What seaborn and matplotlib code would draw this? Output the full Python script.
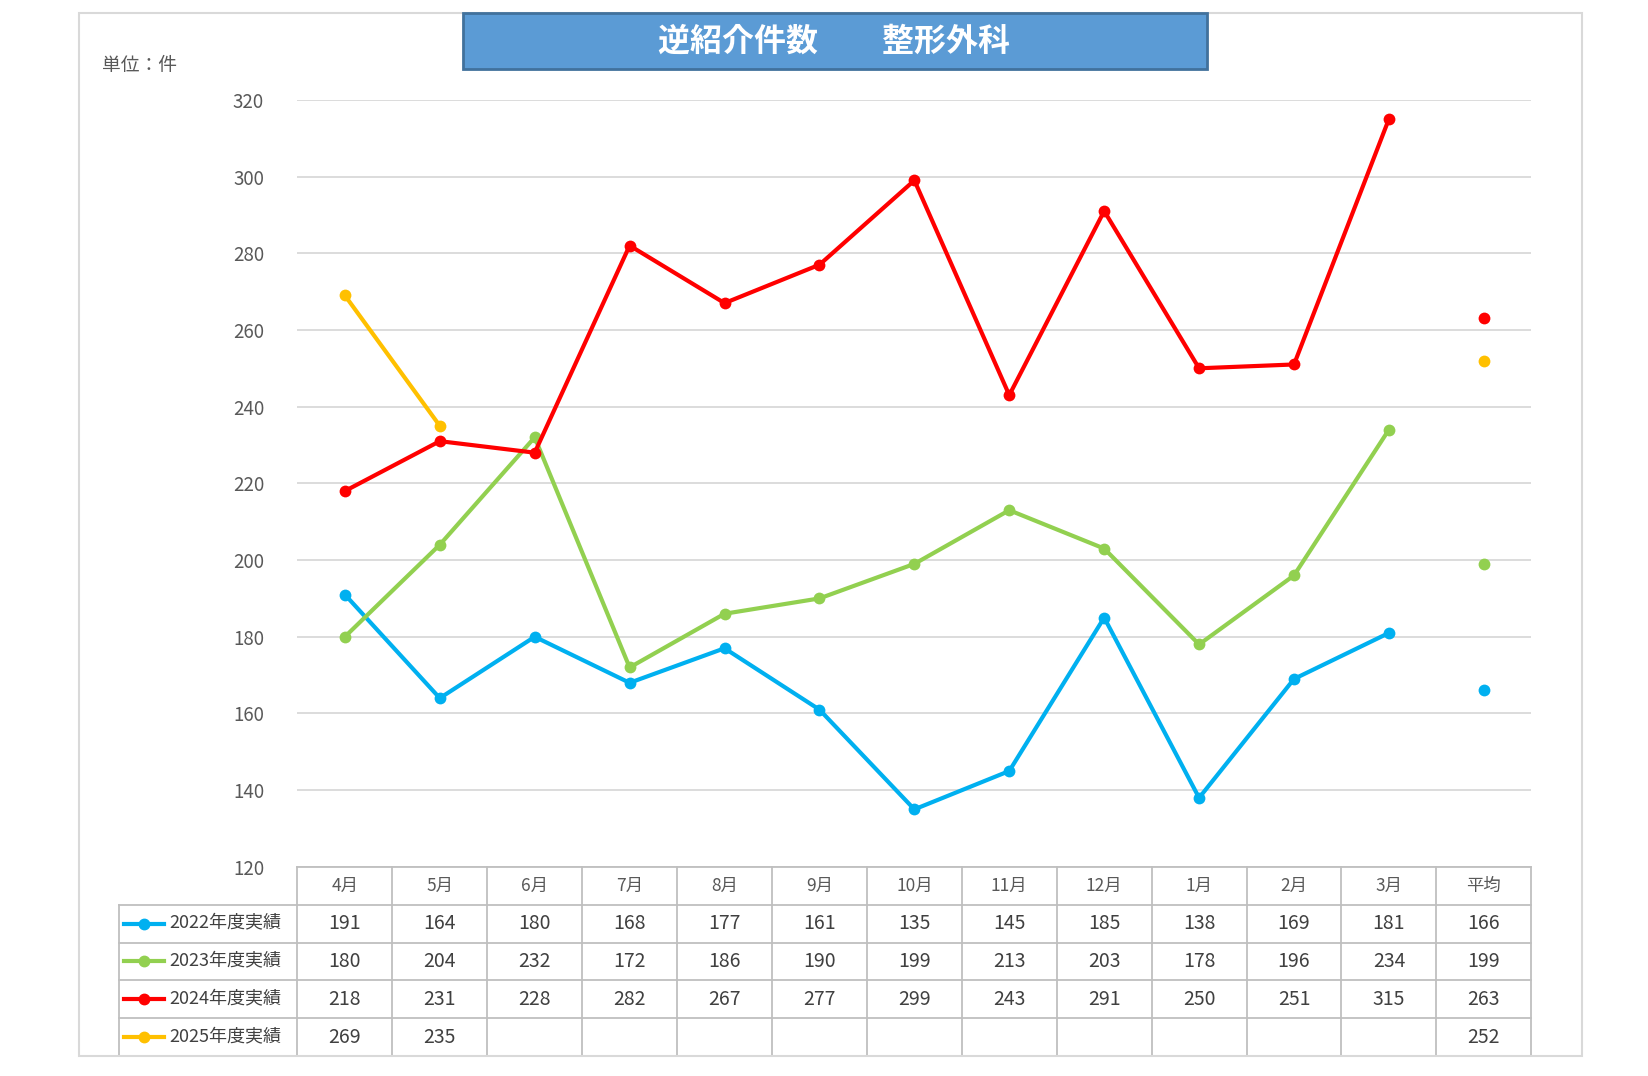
import numpy as np
import pandas as pd
import matplotlib
matplotlib.use("Agg")
import matplotlib.pyplot as plt
import seaborn as sns
from matplotlib.patches import Rectangle
from matplotlib.lines import Line2D

plt.rcParams['font.family'] = 'Noto Sans CJK JP'

months = ['4月', '5月', '6月', '7月', '8月', '9月', '10月', '11月', '12月', '1月', '2月', '3月']
series_names = ['2022年度実績', '2023年度実績', '2024年度実績', '2025年度実績']
v2022 = [191, 164, 180, 168, 177, 161, 135, 145, 185, 138, 169, 181]
v2023 = [180, 204, 232, 172, 186, 190, 199, 213, 203, 178, 196, 234]
v2024 = [218, 231, 228, 282, 267, 277, 299, 243, 291, 250, 251, 315]
v2025 = [269, 235]
averages = [166, 199, 263, 252]
colors = ['#00B0F0', '#92D050', '#FF0000', '#FFC000']
all_vals = [v2022, v2023, v2024, v2025]

# layout measured in a 1569x1024 coordinate space, figure is 1649x1076
W, H = 1569, 1024
fig = plt.figure(figsize=(16.49, 10.76), dpi=100)

def fr(x0, y0, x1, y1):
    return [x0 / W, 1 - y1 / H, (x1 - x0) / W, (y1 - y0) / H]

# outer border
fig.add_artist(Rectangle((75 / W, 1 - 1005 / H), 1430 / W, 993 / H, transform=fig.transFigure,
                         fill=False, edgecolor='#D9D9D9', lw=1.5))

ax = fig.add_axes(fr(283, 95, 1457, 825))
rows = []
for name, vals in zip(series_names, all_vals):
    for i, v in enumerate(vals):
        rows.append({'x': i, 'y': v, 's': name})
df = pd.DataFrame(rows)
sns.lineplot(data=df, x='x', y='y', hue='s', palette=colors, marker='o', markersize=8.5,
             markeredgewidth=0, linewidth=3, ax=ax, legend=False)
for a, c in zip(averages, colors):
    ax.plot([12], [a], 'o', color=c, markersize=8.5, markeredgewidth=0)
ax.set_xlim(-0.5, 12.5)
ax.set_ylim(120, 320)
ax.set_yticks(range(120, 321, 20))
ax.yaxis.grid(True, color='#D9D9D9', lw=1.3)
ax.set_axisbelow(True)
ax.set_xticks([])
ax.set_xlabel('')
ax.set_ylabel('')
for s in ax.spines.values():
    s.set_visible(False)
ax.tick_params(axis='y', length=0, pad=24, labelsize=13.5, labelcolor='#595959')

# table
lw_col = (283 - 113) / ((1457 - 283) / 13)
tx = fig.add_axes(fr(113, 825, 1457, 1005))
tx.set_xlim(-0.5 - lw_col, 12.5)
tx.set_ylim(5, 0)
tx.axis('off')
gc = '#BFBFBF'
for r in range(6):
    x0 = -0.5 if r == 0 else -0.5 - lw_col
    tx.plot([x0, 12.5], [r, r], color=gc, lw=1.3, clip_on=False)
for c in range(14):
    tx.plot([c - 0.5, c - 0.5], [0, 5], color=gc, lw=1.3, clip_on=False)
tx.plot([-0.5 - lw_col] * 2, [1, 5], color=gc, lw=1.3, clip_on=False)
for i, m in enumerate(months + ['平均']):
    tx.text(i, 0.5, m, ha='center', va='center', fontsize=12.5, color='#595959')
for r, (name, vals, c, a) in enumerate(zip(series_names, all_vals, colors, averages), start=1):
    lx = -0.5 - lw_col
    tx.add_line(Line2D([lx + 0.05, lx + 0.48], [r + 0.5, r + 0.5], color=c, lw=3))
    tx.plot([lx + 0.265], [r + 0.5], 'o', color=c, markersize=7.5)
    tx.text(lx + 0.53, r + 0.5, name, ha='left', va='center', fontsize=13, color='#404040')
    for i, v in enumerate(vals):
        tx.text(i, r + 0.5, str(v), ha='center', va='center', fontsize=14, color='#404040')
    tx.text(12, r + 0.5, str(a), ha='center', va='center', fontsize=14, color='#404040')

# title
fig.add_artist(Rectangle((441 / W, 1 - 66 / H), 707 / W, 54 / H, transform=fig.transFigure,
                         facecolor='#5B9BD5', edgecolor='#41719C', lw=2))
fig.text(794 / W, 1 - 40 / H, '逆紹介件数　　整形外科', ha='center', va='center',
         fontsize=23, fontweight='bold', color='white')
fig.text(97 / W, 1 - 62 / H, '単位：件', ha='left', va='center', fontsize=13.5, color='#595959')

fig.savefig('out.png', dpi=100)
